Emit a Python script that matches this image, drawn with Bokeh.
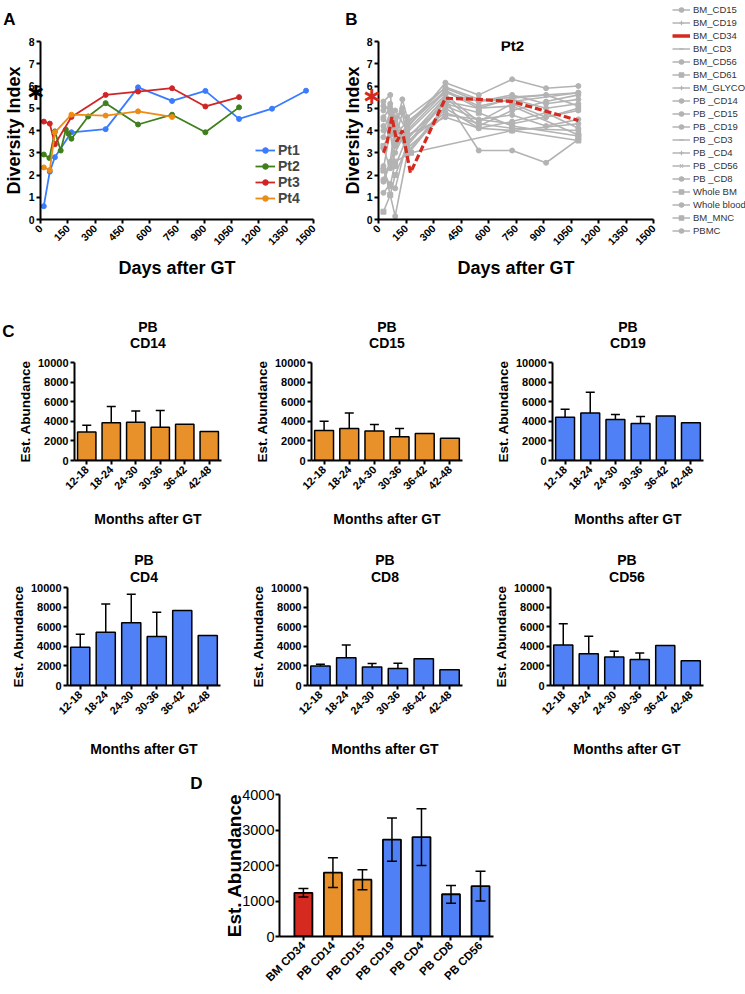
import math
from bokeh.plotting import figure
from bokeh.models import (Range1d, FixedTicker, Legend, LegendItem, Label, Title, LinearAxis,
                          Whisker, TeeHead, ColumnDataSource, FactorRange)
from bokeh.layouts import column, row
from bokeh.embed import file_html
from bokeh.resources import INLINE

FONT = "Liberation Sans"

# ---------------- Panel A data ----------------
day_ticks = [0, 150, 300, 450, 600, 750, 900, 1050, 1200, 1350, 1500]
div_ticks = [0, 1, 2, 3, 4, 5, 6, 7, 8]

pt_names = ["Pt1", "Pt2", "Pt3", "Pt4"]
pt_colors = ["#3a7bff", "#3f7f1c", "#d12525", "#ec8c14"]
pt1_days = [18, 51, 79, 170, 358, 536, 723, 906, 1091, 1272, 1459]
pt1_div = [0.6, 2.15, 2.8, 3.92, 4.06, 5.94, 5.33, 5.78, 4.52, 4.98, 5.79]
pt2_days = [18, 49, 79, 111, 139, 154, 170, 262, 358, 536, 723, 906, 1091]
pt2_div = [2.92, 2.76, 3.96, 3.1, 4.04, 3.85, 3.63, 4.63, 5.23, 4.27, 4.71, 3.92, 5.04]
pt3_days = [18, 51, 79, 170, 358, 536, 723, 906, 1091]
pt3_div = [4.4, 4.31, 3.38, 4.61, 5.6, 5.75, 5.9, 5.08, 5.5]
pt4_days = [18, 51, 79, 170, 358, 536, 723]
pt4_div = [2.34, 2.22, 3.92, 4.71, 4.67, 4.86, 4.61]
star_A = 5.75

# ---------------- Panel B data (Pt2 sub-populations) ----------------
star_B = 5.55
bm_cd15_days = [27, 64, 91, 156, 365, 547, 729, 914, 1090]
bm_cd15_div = [3.7, 4.5, 3.4, 3.9, 5.6, 4.4, 5.2, 4.6, 5.0]
bm_cd19_days = [27, 64, 91, 156, 365, 547, 729, 1090]
bm_cd19_div = [2.4, 1.1, 0.15, 2.9, 5.0, 4.1, 4.0, 4.3]
bm_cd34_days = [27, 45, 73, 100, 130, 174, 365, 547, 729, 1090]
bm_cd34_div = [3.0, 3.4, 4.6, 3.5, 4.0, 2.1, 5.45, 5.4, 5.3, 4.45]
bm_cd3_days = [27, 64, 91, 156, 365, 729, 1090]
bm_cd3_div = [1.8, 2.6, 4.3, 3.2, 4.7, 4.3, 4.9]
bm_cd56_days = [27, 64, 91, 156, 365, 547, 729, 1090]
bm_cd56_div = [1.2, 1.6, 1.4, 3.5, 4.8, 4.3, 4.1, 4.0]
bm_cd61_days = [27, 64, 91, 156, 365, 547, 729, 1090]
bm_cd61_div = [0.35, 1.1, 2.0, 3.3, 5.3, 5.0, 5.1, 3.8]
bm_glyco_days = [27, 64, 91, 156, 365, 547, 729, 1090]
bm_glyco_div = [5.1, 4.9, 3.8, 4.4, 5.7, 5.3, 5.5, 5.7]
pb_cd14_days = [27, 64, 91, 130, 156, 365, 547, 729, 914, 1090]
pb_cd14_div = [5.3, 5.6, 4.0, 5.4, 4.6, 5.9, 5.3, 5.6, 5.2, 5.4]
pb_cd15_days = [27, 64, 91, 130, 156, 365, 547, 729, 914, 1090]
pb_cd15_div = [4.9, 5.2, 4.4, 5.0, 4.2, 5.8, 5.1, 5.4, 5.0, 5.2]
pb_cd19_days = [27, 64, 91, 130, 156, 365, 547, 729, 914, 1090]
pb_cd19_div = [2.3, 4.0, 3.6, 4.8, 3.6, 5.5, 4.2, 4.9, 5.3, 5.6]
pb_cd3_days = [27, 64, 91, 156, 365, 547, 729, 914, 1090]
pb_cd3_div = [4.2, 3.8, 4.6, 3.4, 5.4, 3.1, 3.1, 2.55, 3.6]
pb_cd4_days = [27, 64, 91, 156, 365, 547, 729, 914, 1090]
pb_cd4_div = [4.6, 5.0, 4.2, 3.0, 5.1, 4.5, 4.7, 4.2, 4.5]
pb_cd56_days = [27, 64, 91, 156, 365, 547, 729, 914, 1090]
pb_cd56_div = [3.2, 2.3, 3.0, 4.1, 6.15, 5.6, 6.3, 5.9, 6.0]
pb_cd8_days = [27, 64, 91, 156, 365, 547, 729, 914, 1090]
pb_cd8_div = [1.7, 2.5, 3.3, 3.8, 4.6, 4.1, 4.4, 4.8, 4.1]
whole_bm_days = [27, 64, 91, 178, 729, 1090]
whole_bm_div = [2.2, 1.5, 2.6, 3.0, 4.0, 3.55]
whole_blood_days = [27, 64, 91, 156, 365, 547, 729, 1090]
whole_blood_div = [4.0, 4.8, 3.3, 4.3, 5.95, 5.4, 5.3, 5.7]
bm_mnc_days = [27, 64, 91, 156, 365, 547, 729, 1090]
bm_mnc_div = [3.3, 3.9, 2.4, 3.7, 5.2, 4.8, 4.2, 3.75]
pbmc_days = [27, 64, 91, 156, 365, 547, 729, 914, 1090]
pbmc_div = [4.5, 4.3, 4.9, 4.0, 5.75, 5.0, 5.45, 5.6, 5.1]

b_names = ["BM_CD15", "BM_CD19", "BM_CD34", "BM_CD3", "BM_CD56", "BM_CD61", "BM_GLYCO",
           "PB _CD14", "PB _CD15", "PB _CD19", "PB _CD3", "PB _CD4", "PB _CD56", "PB _CD8",
           "Whole BM", "Whole blood", "BM_MNC", "PBMC"]
b_markers = ["circle", "cross", None, "dash", "circle", "square", "cross",
             "circle", "circle", "circle", "dash", "cross", "x", "circle",
             "square", "circle", "square", "circle"]

# ---------------- Panel C data ----------------
months = ["12-18", "18-24", "24-30", "30-36", "36-42", "42-48"]
cd14_mean = [2900, 3850, 3900, 3400, 3700, 2950]
cd14_sd = [700, 1650, 1150, 1700, 0, 0]
cd15_mean = [3060, 3260, 3000, 2430, 2760, 2270]
cd15_sd = [940, 1580, 680, 830, 0, 0]
cd19_mean = [4410, 4840, 4180, 3780, 4540, 3850]
cd19_sd = [820, 2130, 520, 720, 0, 0]
cd4_mean = [3900, 5430, 6410, 5000, 7660, 5100]
cd4_sd = [1330, 2890, 2890, 2470, 0, 0]
cd8_mean = [2000, 2830, 1900, 1740, 2730, 1610]
cd8_sd = [170, 1310, 340, 530, 0, 0]
cd56_mean = [4130, 3250, 2920, 2660, 4070, 2520]
cd56_sd = [2170, 1770, 580, 650, 0, 0]
abund_ticks = [0, 2000, 4000, 6000, 8000, 10000]

# ---------------- Panel D data ----------------
d_cells = ["BM CD34", "PB CD14", "PB CD15", "PB CD19", "PB CD4", "PB CD8", "PB CD56"]
d_mean = [1230, 1800, 1600, 2730, 2800, 1190, 1420]
d_sd = [120, 420, 280, 610, 800, 250, 420]
d_ticks = [0, 1000, 2000, 3000, 4000]

RED = "#d42a1f"
ORANGE = "#e8912b"
BLUE = "#4f80f5"
GREY = "#b3b3b3"
d_colors = [RED, ORANGE, ORANGE, BLUE, BLUE, BLUE, BLUE]


def no_align(p):
    try:
        p.frame_align = False
    except Exception:
        pass


def base_fig(**kw):
    p = figure(output_backend="svg", toolbar_location=None, **kw)
    p.xgrid.grid_line_color = None
    p.ygrid.grid_line_color = None
    p.outline_line_color = None
    p.background_fill_color = "white"
    p.border_fill_color = "white"
    return p


def blank_fig(width, height, xr=(0, 1), yr=(0, 1)):
    p = figure(output_backend="svg", toolbar_location=None, width=width, height=height,
               x_range=Range1d(*xr), y_range=Range1d(*yr),
               x_axis_location=None, y_axis_location=None,
               min_border_left=0, min_border_right=0, min_border_top=0, min_border_bottom=0)
    p.xgrid.grid_line_color = None
    p.ygrid.grid_line_color = None
    p.outline_line_color = None
    no_align(p)
    return p


def axis_style(ax, size, bold=True, label_size="14px"):
    ax.axis_line_width = 2
    ax.axis_line_color = "black"
    ax.major_tick_line_width = 2
    ax.major_tick_line_color = "black"
    ax.major_tick_out = 4
    ax.major_tick_in = 0
    ax.minor_tick_line_color = None
    ax.major_label_text_font = FONT
    ax.major_label_text_font_size = size
    ax.major_label_text_font_style = "bold" if bold else "normal"
    ax.major_label_text_color = "black"
    ax.axis_label_text_font = FONT
    ax.axis_label_text_font_style = "bold"
    ax.axis_label_text_font_size = label_size
    ax.axis_label_text_color = "black"


def letter(p, txt, x, y, size="17px"):
    p.add_layout(Label(x=x, y=y, x_units="screen", y_units="screen", text=txt,
                       text_font=FONT, text_font_style="bold", text_font_size=size,
                       text_align="center", text_baseline="middle", text_color="black"))


def diversity_fig(width, bl, br, star_value, star_color, star_standoff, label_standoff):
    p = base_fig(width=width, height=252, x_range=Range1d(0, 1500), y_range=Range1d(0, 8),
                 min_border_left=bl, min_border_right=br, min_border_top=13, min_border_bottom=59)
    for ax in p.axis:
        axis_style(ax, "10.5px", label_size="18px")
    p.xaxis.ticker = FixedTicker(ticks=day_ticks)
    p.yaxis.ticker = FixedTicker(ticks=div_ticks)
    p.xaxis.major_label_orientation = math.pi / 4
    p.xaxis.major_label_standoff = 3
    p.yaxis.major_label_standoff = 2
    p.xaxis.axis_label = "Days after GT"
    p.xaxis.axis_label_standoff = 6
    # outer axis: carries the asterisk mark on the y axis and the axis title
    sax = LinearAxis(ticker=FixedTicker(ticks=[star_value]),
                     major_label_overrides={star_value: "\u2217"})
    axis_style(sax, "24px", label_size="18px")
    sax.major_label_text_font = "DejaVu Sans"
    sax.major_label_text_color = star_color
    sax.axis_line_color = None
    sax.major_tick_line_color = None
    sax.major_tick_out = 0
    sax.major_label_standoff = star_standoff
    sax.axis_label = "Diversity Index"
    sax.axis_label_standoff = label_standoff
    p.add_layout(sax, "left")
    return p


# ---------------- strip with panel letters A / B ----------------
stripAB = blank_fig(662, 28)
letter(stripAB, "A", 9, 9)
letter(stripAB, "B", 351, 9)

# ---------------- Panel A ----------------
pA = diversity_fig(327, 40, 14, star_A, "black", -20, -2)
items = []
for name, col, dd, vv in zip(pt_names, pt_colors,
                             [pt1_days, pt2_days, pt3_days, pt4_days],
                             [pt1_div, pt2_div, pt3_div, pt4_div]):
    r1 = pA.line(dd, vv, line_color=col, line_width=1.8)
    r2 = pA.scatter(dd, vv, size=5, fill_color=col, line_color=col)
    items.append(LegendItem(label=name, renderers=[r1, r2]))
legA = Legend(items=items, location=(215, 13), label_text_font=FONT, label_text_font_size="14px",
              label_text_font_style="bold", glyph_width=20, glyph_height=14, label_height=14,
              spacing=0, padding=0, margin=0, label_standoff=3,
              background_fill_alpha=0, border_line_color=None)
pA.add_layout(legA)

# ---------------- Panel B ----------------
pB = diversity_fig(335, 51, 9, star_B, RED, -18, -5)
b_days = [bm_cd15_days, bm_cd19_days, bm_cd34_days, bm_cd3_days, bm_cd56_days, bm_cd61_days,
          bm_glyco_days, pb_cd14_days, pb_cd15_days, pb_cd19_days, pb_cd3_days, pb_cd4_days,
          pb_cd56_days, pb_cd8_days, whole_bm_days, whole_blood_days, bm_mnc_days, pbmc_days]
b_divs = [bm_cd15_div, bm_cd19_div, bm_cd34_div, bm_cd3_div, bm_cd56_div, bm_cd61_div,
          bm_glyco_div, pb_cd14_div, pb_cd15_div, pb_cd19_div, pb_cd3_div, pb_cd4_div,
          pb_cd56_div, pb_cd8_div, whole_bm_div, whole_blood_div, bm_mnc_div, pbmc_div]
for name, mk, dd, vv in zip(b_names, b_markers, b_days, b_divs):
    if mk is None:
        continue
    pB.line(dd, vv, line_color=GREY, line_width=1.6)
    pB.scatter(dd, vv, marker="square" if mk == "square" else "circle", size=5,
               fill_color=GREY, line_color=GREY)
i34 = b_names.index("BM_CD34")
pB.line(b_days[i34], b_divs[i34], line_color=RED, line_width=3.2, line_dash="7 3")
pB.add_layout(Label(x=134, y=174, x_units="screen", y_units="screen", text="Pt2",
                    text_font=FONT, text_font_style="bold", text_font_size="15px",
                    text_align="center", text_baseline="middle", text_color="black"))

# ---------------- legend figure for panel B (series drawn off-range, only legend shows) ----------------
pLeg = blank_fig(83, 280, xr=(-2, -1), yr=(-2, -1))
leg_items = []
for name, mk, dd, vv in zip(b_names, b_markers, b_days, b_divs):
    if mk is None:
        r = pLeg.line(dd, vv, line_color=RED, line_width=3.5)
        leg_items.append(LegendItem(label=name, renderers=[r]))
    else:
        r1 = pLeg.line(dd, vv, line_color=GREY, line_width=1.5)
        r2 = pLeg.scatter(dd, vv, marker=mk, size=5, fill_color=GREY, line_color=GREY,
                          line_width=1.2)
        leg_items.append(LegendItem(label=name, renderers=[r1, r2]))
legB = Legend(items=leg_items, location=(10, 44), label_text_font=FONT,
              label_text_font_size="9.5px", label_text_color="#333333",
              glyph_width=18, glyph_height=11, label_height=11, spacing=2, padding=0, margin=0,
              label_standoff=3, background_fill_alpha=0, border_line_color=None)
pLeg.add_layout(legB)


# ---------------- Panel C ----------------
def bar_panel(cell, means, sds, color, width, bl, br, height, bt, bb, lift, title_gap, xlab_gap):
    p = base_fig(width=width, height=height, x_range=FactorRange(*months),
                 y_range=Range1d(0, 10000), min_border_left=bl, min_border_right=br,
                 min_border_top=bt, min_border_bottom=bb)
    for ax in p.axis:
        axis_style(ax, "11px", label_size="14px")
    p.yaxis.ticker = FixedTicker(ticks=abund_ticks)
    p.xaxis.major_label_orientation = math.pi / 4
    p.xaxis.major_label_standoff = 3
    p.yaxis.major_label_standoff = 2
    p.xaxis.axis_label = "Months after GT"
    p.yaxis.axis_label = "Est. Abundance"
    p.yaxis.axis_label_text_font_size = "13.5px"
    p.xaxis.axis_label_standoff = xlab_gap
    p.yaxis.axis_label_standoff = 2
    src = ColumnDataSource(dict(m=months, v=means))
    p.vbar(x="m", top="v", width=0.75, source=src, fill_color=color,
           line_color="black", line_width=1.5)
    em = [m for m, s in zip(months, sds) if s > 0]
    ev = [v for v, s in zip(means, sds) if s > 0]
    eu = [v + s for v, s in zip(means, sds) if s > 0]
    esrc = ColumnDataSource(dict(m=em, lo=ev, up=eu))
    p.add_layout(Whisker(base="m", lower="lo", upper="up", source=esrc, dimension="height",
                         line_width=1.5, line_color="black", level="annotation",
                         upper_head=TeeHead(size=9, line_width=1.5, line_color="black"),
                         lower_head=None))
    if lift > 0:
        p.add_layout(Title(text=" ", text_font_size="1px", standoff=lift), "above")
    p.add_layout(Title(text=cell, align="center", text_font=FONT, text_font_style="bold",
                       text_font_size="14px", text_color="black", standoff=title_gap,
                       vertical_align="top"), "above")
    p.add_layout(Title(text="PB", align="center", text_font=FONT, text_font_style="bold",
                       text_font_size="14px", text_color="black", standoff=0), "above")
    return p


stripC = blank_fig(14, 250)
letter(stripC, "C", 8, 199)
c1 = bar_panel("CD14", cd14_mean, cd14_sd, ORANGE, 231, 54, 24, 250, 82, 67, 7, 0, 15)
c2 = bar_panel("CD15", cd15_mean, cd15_sd, ORANGE, 247, 66, 30, 250, 82, 67, 7, 0, 15)
c3 = bar_panel("CD19", cd19_mean, cd19_sd, BLUE, 253, 60, 42, 250, 82, 67, 7, 0, 15)
c4 = bar_panel("CD4", cd4_mean, cd4_sd, BLUE, 245, 67, 25, 230, 57, 72, 0, 2, 20)
c5 = bar_panel("CD8", cd8_mean, cd8_sd, BLUE, 245, 62, 28, 230, 57, 72, 0, 2, 20)
c6 = bar_panel("CD56", cd56_mean, cd56_sd, BLUE, 255, 58, 42, 230, 57, 72, 0, 2, 20)

# ---------------- Panel D ----------------
stripD = blank_fig(207, 232)
letter(stripD, "D", 196, 209)
d_x = list(range(len(d_cells)))
pD = base_fig(width=538, height=232, x_range=Range1d(-0.81, 6.44), y_range=Range1d(0, 4000),
              min_border_left=72, min_border_right=252, min_border_top=34, min_border_bottom=56)
for ax in pD.axis:
    axis_style(ax, "11.5px", label_size="19px")
pD.yaxis.major_label_text_font_size = "14.5px"
pD.yaxis.major_label_text_font_style = "normal"
pD.yaxis.ticker = FixedTicker(ticks=d_ticks)
pD.xaxis.ticker = FixedTicker(ticks=d_x)
pD.xaxis.major_label_overrides = {i: c for i, c in zip(d_x, d_cells)}
pD.xaxis.major_label_orientation = math.pi / 4
pD.xaxis.major_label_standoff = 3
pD.yaxis.major_label_standoff = 1
pD.yaxis.axis_label = "Est. Abundance"
pD.yaxis.axis_label_standoff = -6
dsrc = ColumnDataSource(dict(x=d_x, v=d_mean, c=d_colors,
                             lo=[m - s for m, s in zip(d_mean, d_sd)],
                             up=[m + s for m, s in zip(d_mean, d_sd)]))
pD.vbar(x="x", top="v", width=0.61, source=dsrc, fill_color="c", line_color="black", line_width=1.8)
pD.add_layout(Whisker(base="x", lower="lo", upper="up", source=dsrc, dimension="height",
                      line_width=1.5, line_color="black", level="annotation",
                      upper_head=TeeHead(size=10, line_width=1.5, line_color="black"),
                      lower_head=TeeHead(size=10, line_width=1.5, line_color="black")))

layout = column(
    row(column(stripAB, row(pA, pB)), pLeg),
    row(stripC, c1, c2, c3),
    row(c4, c5, c6),
    row(stripD, pD),
)

with open("out.html", "w") as f:
    f.write(file_html(layout, INLINE))
